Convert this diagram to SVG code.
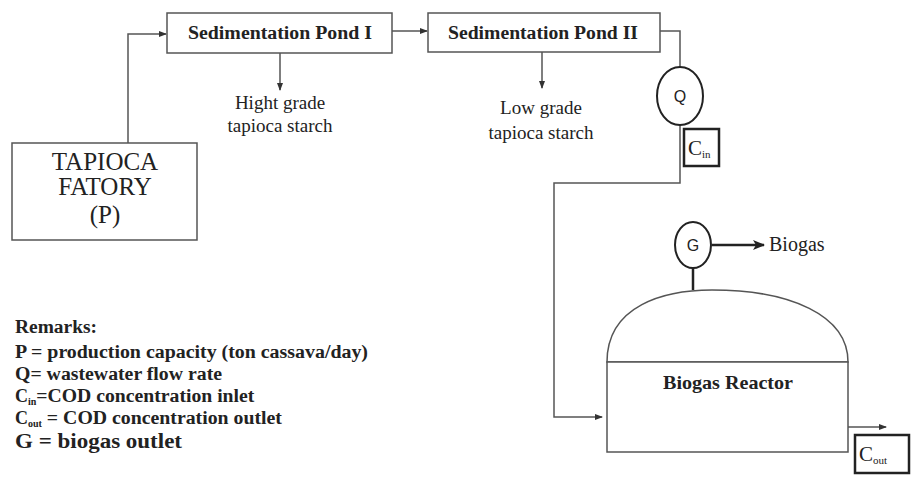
<svg xmlns="http://www.w3.org/2000/svg" width="914" height="477" viewBox="0 0 914 477">
<style>
.box{fill:#fff;stroke:#555;stroke-width:1.5}
.ln{fill:none;stroke:#555;stroke-width:1.5}
.t{font-family:"Liberation Serif",serif;fill:#222}
.b{font-weight:bold}
.thick{fill:#fff;stroke:#222;stroke-width:2.5}
.circ{fill:#fff;stroke:#222;stroke-width:2}
</style>
<defs>
<marker id="ah" markerWidth="8" markerHeight="8" refX="7" refY="4" orient="auto" markerUnits="userSpaceOnUse">
<path d="M0,1 L8,4 L0,7 Z" fill="#333"/>
</marker>
<marker id="ah2" markerWidth="12" markerHeight="12" refX="11" refY="6" orient="auto" markerUnits="userSpaceOnUse">
<path d="M0,1 L12,6 L0,11 L3,6 Z" fill="#222"/>
</marker>
</defs>
<g id="connectors">
<path class="ln" d="M128,143 V34 H166" marker-end="url(#ah)"/>
<path class="ln" d="M392,31 H427" marker-end="url(#ah)"/>
<path class="ln" d="M280,53 V90" marker-end="url(#ah)"/>
<path class="ln" d="M542,52 V88" marker-end="url(#ah)"/>
<path class="ln" d="M660,31 H680 V67"/>
<path class="ln" d="M680,125 V183 H554 V417 H602" marker-end="url(#ah)"/>
<path class="ln" d="M693,268 V290" style="stroke:#222;stroke-width:2.5"/>
<path class="ln" d="M712,245 H764" style="stroke:#222;stroke-width:2.5" marker-end="url(#ah2)"/>
<path class="ln" d="M837,427 H886" marker-end="url(#ah)"/>
</g>
<g id="tapioca">
<rect class="box" x="12" y="143" width="185" height="97"/>
<text class="t" x="105" y="170" font-size="25" text-anchor="middle">TAPIOCA</text>
<text class="t" x="105" y="195" font-size="25" text-anchor="middle">FATORY</text>
<text class="t" x="105" y="223" font-size="25" text-anchor="middle">(P)</text>
</g>
<g id="pond1">
<rect class="box" x="167" y="13" width="225" height="40"/>
<text class="t b" x="188" y="39" font-size="18" textLength="184" lengthAdjust="spacingAndGlyphs">Sedimentation Pond I</text>
</g>
<g id="high-grade">
<text class="t" x="280" y="109" font-size="19" text-anchor="middle">Hight grade</text>
<text class="t" x="280" y="132" font-size="19" text-anchor="middle">tapioca starch</text>
</g>
<g id="pond2">
<rect class="box" x="428" y="13" width="232" height="39"/>
<text class="t b" x="448" y="39" font-size="18" textLength="190" lengthAdjust="spacingAndGlyphs">Sedimentation Pond II</text>
</g>
<g id="low-grade">
<text class="t" x="541" y="114" font-size="19" text-anchor="middle">Low grade</text>
<text class="t" x="541" y="139" font-size="19" text-anchor="middle">tapioca starch</text>
</g>
<g id="q">
<ellipse class="circ" cx="680" cy="96" rx="23" ry="29"/>
<text x="680" y="102" font-size="16" text-anchor="middle" font-family="Liberation Sans,sans-serif" fill="#222">Q</text>
</g>
<g id="cin">
<rect class="thick" x="684" y="129" width="35" height="37"/>
<text class="t" x="688" y="155" font-size="21">C<tspan font-size="11" dy="3">in</tspan></text>
</g>
<g id="reactor">
<path class="box" d="M607,362 C607,305 665,290 712,290 C790,290 848,315 848,362 Z"/>
<rect class="box" x="607" y="362" width="241" height="90"/>
<text class="t b" x="728" y="389" font-size="19" text-anchor="middle" textLength="130" lengthAdjust="spacingAndGlyphs">Biogas Reactor</text>
</g>
<g id="g">
<ellipse class="circ" cx="693" cy="245" rx="18" ry="23"/>
<text x="693" y="251" font-size="16" text-anchor="middle" font-family="Liberation Sans,sans-serif" fill="#222">G</text>
</g>
<g id="biogas">
<text class="t" x="769" y="251" font-size="20">Biogas</text>
</g>
<g id="cout">
<rect class="thick" x="855" y="435" width="54" height="38"/>
<text class="t" x="859" y="461" font-size="21">C<tspan font-size="11" dy="3">out</tspan></text>
</g>
<g id="remarks">
<text class="t b" x="15" y="333" font-size="18" textLength="82" lengthAdjust="spacingAndGlyphs">Remarks:</text>
<text class="t b" x="15" y="358" font-size="18" textLength="353" lengthAdjust="spacingAndGlyphs">P = production capacity (ton cassava/day)</text>
<text class="t b" x="15" y="380" font-size="18" textLength="207" lengthAdjust="spacingAndGlyphs">Q= wastewater flow rate</text>
<text class="t b" x="15" y="402" font-size="18">C<tspan font-size="10" dy="3">in</tspan><tspan dy="-3" textLength="218" lengthAdjust="spacingAndGlyphs">=COD concentration inlet</tspan></text>
<text class="t b" x="15" y="424" font-size="18">C<tspan font-size="10" dy="3">out</tspan><tspan dy="-3" textLength="240" lengthAdjust="spacingAndGlyphs"> = COD concentration outlet</tspan></text>
<text class="t b" x="15" y="448" font-size="20" textLength="167" lengthAdjust="spacingAndGlyphs">G = biogas outlet</text>
</g>
</svg>
